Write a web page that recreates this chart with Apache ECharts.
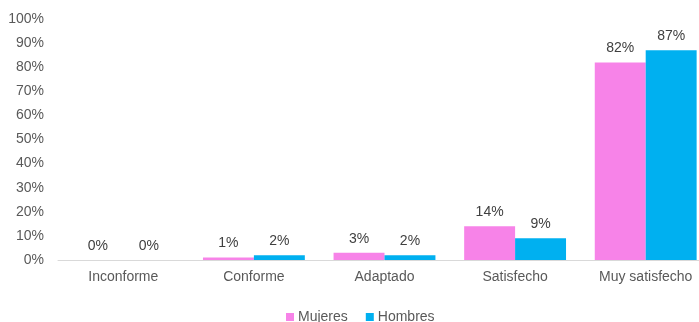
<!DOCTYPE html>
<html>
<head>
<meta charset="utf-8">
<script src="https://cdn.jsdelivr.net/npm/echarts@6/dist/echarts.min.js"></script>
<style>
html,body{margin:0;padding:0;background:#fff;overflow:hidden;width:699px;height:322px;}
#c{width:711px;height:322px;}
</style>
</head>
<body>
<div id="c"></div>
<script>
var categories = ['Inconforme', 'Conforme', 'Adaptado', 'Satisfecho', 'Muy satisfecho'];
var mujeres = [0, 1, 3, 14, 82];
var hombres = [0, 2, 2, 9, 87];
var yTicks = [0, 10, 20, 30, 40, 50, 60, 70, 80, 90, 100];

var FONT = 'Liberation Sans, Arial, sans-serif';
var chart = echarts.init(document.getElementById('c'), null, {renderer: 'canvas'});
var labelStyle = {
  show: true, position: 'top', distance: 7,
  formatter: function (p) { return p.value + '%'; },
  color: '#404040', fontSize: 14, fontFamily: FONT
};
chart.setOption({
  animation: false,
  backgroundColor: '#ffffff',
  grid: {left: 58, right: 0, top: 19, height: 241, containLabel: false},
  legend: {
    top: 305, left: 281,
    itemWidth: 8, itemHeight: 8, itemGap: 18,
    icon: 'rect',
    textStyle: {color: '#595959', fontSize: 14, fontFamily: FONT, padding: [0, 0, 0, -1]},
    data: ['Mujeres', 'Hombres']
  },
  xAxis: {
    type: 'category',
    data: categories,
    axisLine: {lineStyle: {color: '#d9d9d9', width: 1}},
    axisTick: {show: false},
    axisLabel: {color: '#595959', fontSize: 14, fontFamily: FONT, margin: 10, interval: 0}
  },
  yAxis: {
    type: 'value',
    min: yTicks[0], max: yTicks[yTicks.length - 1], interval: 10,
    axisLine: {show: false},
    axisTick: {show: false},
    splitLine: {show: false},
    axisLabel: {color: '#595959', fontSize: 14, fontFamily: FONT, margin: 14,
      formatter: function (v) { return v + '%'; }}
  },
  series: [
    {name: 'Mujeres', type: 'bar', data: mujeres, barGap: '0%', barCategoryGap: '22%',
     itemStyle: {color: '#F783E8'}, label: labelStyle},
    {name: 'Hombres', type: 'bar', data: hombres, barGap: '0%', barCategoryGap: '22%',
     itemStyle: {color: '#00B0F0'}, label: labelStyle}
  ]
});
</script>
</body>
</html>
